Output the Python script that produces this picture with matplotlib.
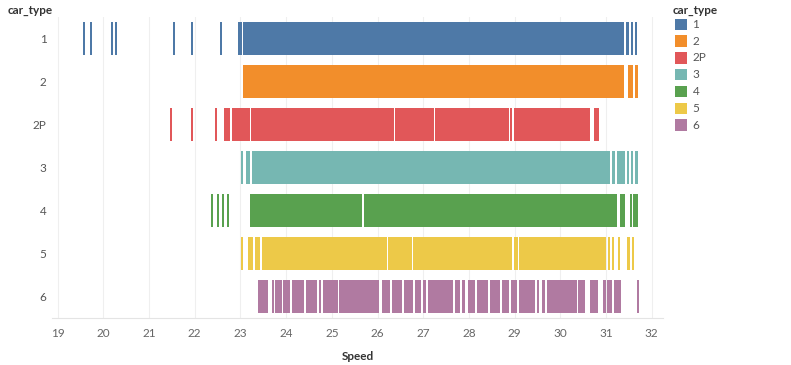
import matplotlib
matplotlib.use("Agg")
import matplotlib.pyplot as plt
from matplotlib.patches import Rectangle

plt.rcParams['font.family'] = ['Lato', 'DejaVu Sans']

# ---- data: speed runs (lo, hi) per car type; single ticks have lo == hi ----
categories = ['1', '2', '2P', '3', '4', '5', '6']
colors = ['#4e79a7', '#f28e2b', '#e15759', '#76b7b2', '#59a14f', '#edc948', '#b07aa1']

speed_1 = [(19.55, 19.55), (19.71, 19.71), (20.16, 20.16), (20.26, 20.26),
           (21.53, 21.53), (21.91, 21.91), (22.56, 22.56), (22.94, 22.94),
           (22.98, 22.98), (23.06, 31.40), (31.44, 31.51), (31.55, 31.60),
           (31.64, 31.68)]
speed_2 = [(23.06, 23.08), (23.11, 31.39), (31.49, 31.60), (31.64, 31.69)]
speed_2P = [(21.46, 21.46), (21.92, 21.92), (22.45, 22.45), (22.64, 22.78),
            (22.82, 23.20), (23.23, 26.35), (26.38, 27.23), (27.26, 28.87),
            (28.90, 28.95), (28.99, 30.64), (30.74, 30.85)]
speed_3 = [(23.01, 23.06), (23.12, 23.21), (23.25, 31.09), (31.13, 31.20),
           (31.23, 31.42), (31.45, 31.50), (31.54, 31.60), (31.64, 31.69)]
speed_4 = [(22.36, 22.36), (22.48, 22.48), (22.59, 22.59), (22.70, 22.70),
           (23.21, 25.67), (25.70, 31.23), (31.31, 31.33), (31.36, 31.38),
           (31.53, 31.57), (31.59, 31.69)]
speed_5 = [(23.02, 23.06), (23.17, 23.28), (23.32, 23.43), (23.47, 26.21),
           (26.24, 26.76), (26.78, 28.95), (28.99, 29.07), (29.10, 31.00),
           (31.05, 31.09), (31.13, 31.18), (31.27, 31.31), (31.47, 31.50),
           (31.56, 31.60)]
speed_6 = [(23.38, 23.41), (23.43, 23.61), (23.69, 23.72), (23.76, 23.90),
           (23.93, 24.09), (24.12, 24.39), (24.43, 24.67), (24.71, 24.76),
           (24.80, 25.14), (25.16, 26.04), (26.09, 26.27), (26.31, 26.33),
           (26.37, 26.53), (26.57, 26.78), (26.81, 26.95), (26.99, 27.06),
           (27.10, 27.65), (27.70, 27.81), (27.84, 27.92), (27.97, 28.13),
           (28.18, 28.42), (28.46, 28.68), (28.72, 28.88), (28.92, 29.05),
           (29.10, 29.45), (29.48, 29.53), (29.59, 29.67), (29.70, 30.36),
           (30.38, 30.54), (30.65, 30.83), (30.93, 31.00), (31.03, 31.13),
           (31.17, 31.33), (31.67, 31.67)]
all_speeds = [speed_1, speed_2, speed_2P, speed_3, speed_4, speed_5, speed_6]

x_ticks = list(range(19, 33))

# ---- figure ----
W, H = 791, 365
fig = plt.figure(figsize=(W / 100, H / 100), dpi=100)
ax_l, ax_r, ax_t, ax_b = 52, 663, 16.8, 318.2
ax = fig.add_axes([ax_l / W, 1 - ax_b / H, (ax_r - ax_l) / W, (ax_b - ax_t) / H])

MARK_W = 0.045
BAR_H = 0.773
for i, (runs, col) in enumerate(zip(all_speeds, colors)):
    xr = [(lo, max(hi - lo, MARK_W)) for lo, hi in runs]
    ax.broken_barh(xr, (i - BAR_H / 2, BAR_H), facecolors=col,
                   edgecolor='none', zorder=3)

ax.set_xlim(18.877, 32.247)
ax.set_ylim(len(categories) - 0.5, -0.5)
ax.set_xticks(x_ticks)
ax.set_xticklabels([str(t) for t in x_ticks])
ax.set_yticks(range(len(categories)))
ax.set_yticklabels(categories)
ax.tick_params(axis='x', length=0, pad=7, labelsize=8.5, labelcolor='#666666')
ax.tick_params(axis='y', length=0, pad=4, labelsize=8.5, labelcolor='#555555')
ax.grid(axis='x', color='#efefef', linewidth=0.8, zorder=0)
for s in ['top', 'left', 'right']:
    ax.spines[s].set_visible(False)
ax.spines['bottom'].set_color('#e4e4e4')
ax.spines['bottom'].set_linewidth(0.8)
ax.set_xlabel('Speed', fontsize=8.5, fontweight='bold', color='#333333', labelpad=9)

fig.text(8 / W, 1 - 10 / H, 'car_type', fontsize=8.5, fontweight='bold',
         color='#333333', ha='left', va='center')

# ---- legend ----
fig.text(673 / W, 1 - 10 / H, 'car_type', fontsize=8.5, fontweight='bold',
         color='#333333', ha='left', va='center')
sw = 11.5
for k, (cat, col) in enumerate(zip(categories, colors)):
    cy = 24.3 + k * 16.8
    fig.add_artist(Rectangle((675 / W, 1 - (cy + sw / 2) / H), sw / W, sw / H,
                             transform=fig.transFigure, facecolor=col,
                             edgecolor='none'))
    fig.text(692.5 / W, 1 - cy / H, cat, fontsize=8.5, color='#555555',
             ha='left', va='center')

fig.savefig('out.png', dpi=100)
